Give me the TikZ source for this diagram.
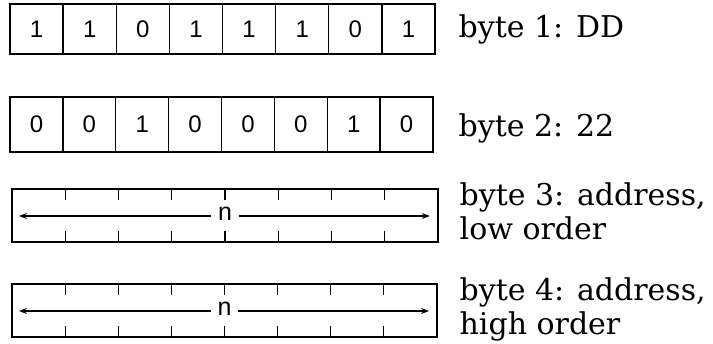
\documentclass[tikz,border=0pt]{standalone}
\usepackage{fontspec}
\setmainfont{DejaVu Serif}
\newfontfamily\bitfont{Liberation Sans}
\usetikzlibrary{arrows.meta}
\begin{document}
\begin{tikzpicture}[x=1pt,y=-1pt, line width=1.3pt,
  bit/.style={font=\bitfont\fontsize{24}{24}\selectfont, inner sep=0pt},
  nlab/.style={font=\bitfont\fontsize{25}{25}\selectfont, inner sep=6pt},
  lab/.style={anchor=base west, inner sep=0pt, font=\fontsize{30}{34}\selectfont},
  tick/.style={line width=1.1pt},
  arr/.style={-{Stealth[length=8pt,width=6pt]}, line width=1.2pt}]
\useasboundingbox (0,0) rectangle (713,344);
% row 1
\draw (10,4) rectangle (435,54);
\foreach \i in {1,...,7} \draw ({10+\i*53.125},4) -- ++(0,50);
\foreach \b [count=\i] in {1,1,0,1,1,1,0,1}
  \node[bit] (ra\i) at ({10+(\i-0.5)*53.125},29) {\b};
% row 2
\draw (10,97) rectangle (433,152);
\foreach \i in {1,...,7} \draw ({10+\i*52.875},97) -- ++(0,55);
\foreach \b [count=\i] in {0,0,1,0,0,0,1,0}
  \node[bit] (rb\i) at ({10+(\i-0.5)*52.875},124.5) {\b};
% row 3
\draw (12,189) rectangle (438,242);
\foreach \i in {1,...,7} {
  \draw[tick] ({12+\i*53.25},189) -- ++(0,11);
  \draw[tick] ({12+\i*53.25},242) -- ++(0,-11);
}
\node[nlab] (n3) at (225,214) {n};
\coordinate (l3) at (19,216);
\coordinate (r3) at (430,216);
\draw[arr] (n3.west |- l3) -- (l3);
\draw[arr] (n3.east |- r3) -- (r3);
% row 4
\draw (12,284) rectangle (437,337);
\foreach \i in {1,...,7} {
  \draw[tick] ({12+\i*53.125},284) -- ++(0,11);
  \draw[tick] ({12+\i*53.125},337) -- ++(0,-11);
}
\node[nlab] (n4) at (224.5,309) {n};
\coordinate (l4) at (19,311);
\coordinate (r4) at (429,311);
\draw[arr] (n4.west |- l4) -- (l4);
\draw[arr] (n4.east |- r4) -- (r4);
% labels
\node[lab] (t1) at (458,38) {byte 1: DD};
\node[lab] (t2) at (458,137) {byte 2: 22};
\node[lab] (t3a) at (459,206) {byte 3: address,};
\node[lab] (t3b) at (459,240) {low order};
\node[lab] (t4a) at (459,301) {byte 4: address,};
\node[lab] (t4b) at (459,335) {high order};
\end{tikzpicture}
\end{document}
